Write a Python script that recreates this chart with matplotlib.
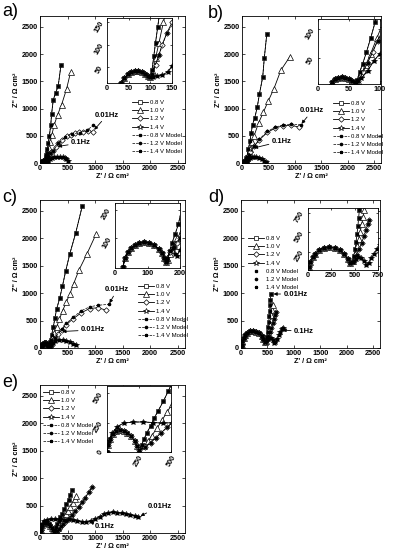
import matplotlib
matplotlib.use("Agg")
import matplotlib.pyplot as plt

plt.rcParams['font.family'] = ['Liberation Sans', 'DejaVu Sans']

# ---- panel a ----
a_arc_x = [28, 33, 40, 48, 56, 64, 72, 80, 88, 95, 100]
a_arc_y = [0, 15, 26, 34, 39, 41, 41, 39, 35, 31, 29]
a_x08 = [104, 108, 112, 117, 122, 135, 150, 170, 195, 211, 241, 285, 331, 380]
a_y08 = [45, 75, 105, 140, 175, 260, 360, 500, 700, 907, 1164, 1290, 1421, 1795]
a_x10 = [106, 112, 120, 130, 145, 160, 185, 215, 259, 320, 392, 482, 554]
a_y10 = [40, 70, 105, 150, 210, 280, 380, 520, 705, 888, 1072, 1360, 1667]
a_x12 = [104, 112, 120, 127, 138, 150, 175, 205, 241, 285, 332, 400, 483, 560, 634, 700, 785, 870, 966]
a_y12 = [35, 55, 78, 100, 126, 150, 180, 200, 225, 290, 362, 430, 487, 520, 546, 565, 575, 585, 575]
a_mx12 = [104, 120, 138, 175, 241, 332, 453, 574, 725, 850, 966]
a_my12 = [35, 78, 126, 180, 225, 362, 472, 533, 557, 600, 690]
a_x14 = [105, 115, 127, 140, 150, 175, 210, 250, 300, 361, 410, 450, 480, 512]
a_y14 = [29, 30, 32, 40, 52, 70, 90, 105, 115, 117, 105, 85, 65, 43]

# ---- panel b ----
b_arc_x = [18, 22, 27, 32, 38, 44, 50, 55, 60]
b_arc_y = [0, 8, 13, 16, 17, 16, 14, 11, 9]
b_x08 = [63, 67, 72, 78, 85, 92, 120, 150, 175, 199, 241, 289, 331, 392, 422, 470]
b_y08 = [12, 25, 40, 60, 85, 112, 250, 400, 560, 705, 827, 1029, 1274, 1581, 1930, 2377]
b_x10 = [64, 70, 77, 85, 95, 110, 130, 160, 195, 229, 313, 404, 494, 602, 735, 903]
b_y10 = [10, 22, 38, 58, 85, 125, 180, 260, 380, 500, 735, 931, 1134, 1360, 1703, 1949]
b_x12 = [65, 72, 80, 88, 96, 110, 130, 160, 229, 331, 482, 633, 783, 934, 1080]
b_y12 = [10, 25, 42, 60, 80, 110, 150, 200, 306, 429, 564, 643, 686, 690, 660]
b_mx12 = [65, 80, 96, 130, 229, 331, 482, 633, 783, 934, 1110]
b_my12 = [10, 42, 80, 150, 306, 440, 580, 660, 700, 715, 700]
b_x14 = [62, 70, 80, 90, 100, 120, 150, 190, 230, 270, 320, 370, 420, 460]
b_y14 = [8, 15, 28, 45, 58, 75, 95, 110, 118, 115, 100, 75, 45, 20]

# ---- panel c ----
c_arc_x = [25, 30, 40, 50, 60, 75, 90, 105, 120, 135, 145, 152, 156]
c_arc_y = [0, 30, 50, 65, 75, 83, 86, 84, 77, 62, 48, 32, 15]
c_x08 = [160, 168, 176, 185, 195, 210, 240, 270, 300, 360, 408, 467, 540, 647, 767]
c_y08 = [25, 55, 85, 115, 150, 230, 380, 540, 705, 919, 1134, 1409, 1716, 2096, 2592]
c_x10 = [162, 170, 180, 192, 205, 225, 260, 300, 350, 410, 480, 540, 611, 707, 851, 1019]
c_y10 = [22, 45, 72, 100, 130, 180, 270, 380, 520, 680, 846, 980, 1176, 1422, 1716, 2083]
c_x12 = [160, 170, 180, 190, 200, 230, 270, 330, 390, 480, 599, 750, 899, 1049, 1200]
c_y12 = [25, 50, 70, 85, 100, 140, 190, 260, 330, 428, 533, 643, 720, 735, 690]
c_mx12 = [160, 180, 200, 270, 390, 480, 599, 750, 899, 1049, 1247]
c_my12 = [25, 70, 100, 190, 340, 450, 560, 680, 750, 780, 796]
c_x14 = [160, 170, 179, 185, 190, 200, 230, 280, 350, 420, 480, 540, 600, 650]
c_y14 = [30, 55, 65, 45, 38, 60, 100, 130, 150, 150, 135, 110, 80, 50]

# ---- panel d ----
d_arc_x = [0, 10, 25, 50, 80, 120, 170, 230, 290, 340, 390, 425, 450]
d_arc_y = [0, 60, 120, 180, 230, 280, 305, 310, 300, 270, 220, 160, 110]
d_x08 = [470, 490, 505, 515, 525, 535, 542, 550, 555, 560]
d_y08 = [120, 200, 290, 380, 480, 580, 680, 780, 880, 980]
d_x10 = [480, 505, 525, 545, 560, 575, 590, 600]
d_y10 = [130, 220, 320, 420, 510, 600, 690, 780]
d_x12 = [490, 520, 550, 575, 600, 620, 640, 655]
d_y12 = [140, 210, 290, 370, 450, 530, 600, 660]
d_x14 = [480, 510, 540, 570, 600, 620, 650, 680, 710, 740, 770, 790]
d_y14 = [125, 160, 180, 175, 140, 90, 110, 170, 230, 290, 340, 370]

# ---- panel e ----
e_arc_x = [0, 10, 25, 45, 70, 100, 130, 160, 190, 215, 235, 250]
e_arc_y = [0, 60, 110, 150, 175, 185, 180, 165, 135, 95, 50, 15]
e_x08 = [270, 290, 310, 340, 370, 400, 440, 480, 520, 550, 575]
e_y08 = [60, 110, 160, 220, 290, 350, 430, 520, 610, 700, 780]
e_x10 = [290, 320, 350, 390, 430, 470, 510, 550, 590, 630, 660]
e_y10 = [50, 90, 140, 200, 270, 340, 410, 480, 550, 620, 680]
e_x12 = [300, 340, 380, 420, 470, 520, 580, 640, 700, 760, 820, 880, 947]
e_y12 = [40, 80, 120, 160, 210, 260, 330, 400, 480, 560, 640, 740, 840]
e_x14 = [0, 15, 40, 80, 130, 200, 280, 360, 440, 520, 600, 680, 760, 840, 920, 1000, 1080,
         1160, 1240, 1320, 1400, 1480, 1560, 1640, 1720, 1780]
e_y14 = [0, 90, 160, 215, 245, 254, 255, 250, 245, 250, 245, 225, 205, 200, 215, 250, 300,
         345, 370, 375, 370, 360, 350, 335, 315, 295]

W, H = 395, 550


def rect(l, t, r, b):
    return [l / W, 1 - b / H, (r - l) / W, (b - t) / H]


def draw_series(ax, arc_x, arc_y, x08, y08, x10, y10, x12, y12, x14, y14,
                mx12, my12, model_lines=True, arc14=True):
    kw = dict(color='k', lw=0.6, mfc='white', mec='k', mew=0.5)
    ax.plot(arc_x + x08, arc_y + y08, marker='s', ms=3.2, label='0.8 V', **kw)
    ax.plot(arc_x + x10, arc_y + y10, marker='^', ms=3.8, label='1.0 V', **kw)
    ax.plot(arc_x + x12, arc_y + y12, marker='D', ms=2.8, label='1.2 V', **kw)
    if arc14:
        x14, y14 = arc_x + x14, arc_y + y14
    ax.plot(x14, y14, marker='*', ms=4.2, label='1.4 V', **kw)
    ls = '--' if model_lines else 'none'
    mk = dict(color='k', lw=0.5, ls=ls)
    ax.plot(arc_x + x08, arc_y + y08, marker='s', ms=1.4, label='0.8 V Model', **mk)
    ax.plot(arc_x + mx12, arc_y + my12, marker='o', ms=1.6, label='1.2 V Model', **mk)
    ax.plot(x14, y14, marker='*', ms=2.2, label='1.4 V Model', **mk)


def style_main(ax):
    ax.set_xlim(0, 2630)
    ax.set_ylim(0, 2700)
    ax.set_xticks([0, 500, 1000, 1500, 2000, 2500])
    ax.set_yticks([0, 500, 1000, 1500, 2000, 2500])
    ax.tick_params(direction='in', top=True, right=True, length=2, width=0.5,
                   labelsize=5.2, pad=1.5)
    for lab in ax.get_xticklabels() + ax.get_yticklabels():
        lab.set_fontweight('bold')
    for s in ax.spines.values():
        s.set_linewidth(0.6)
    ax.set_xlabel("Z' / \u03a9 cm\u00b2", fontsize=5.2, fontweight='bold', labelpad=1)
    ax.set_ylabel("Z'' / \u03a9 cm\u00b2", fontsize=5.2, fontweight='bold', labelpad=1)


def style_inset(ax, xlim, ylim, xt, yt, rot_x=False):
    ax.set_xlim(*xlim)
    ax.set_ylim(*ylim)
    ax.set_xticks(xt)
    ax.set_yticks(yt)
    ax.tick_params(direction='in', top=True, right=True, length=1.5, width=0.5,
                   labelsize=5.2, pad=1.5)
    for lab in ax.get_yticklabels():
        lab.set_fontweight('bold')
        lab.set_rotation(60)
    for lab in ax.get_xticklabels():
        lab.set_fontweight('bold')
        if rot_x:
            lab.set_rotation(60)
    for s in ax.spines.values():
        s.set_linewidth(0.6)


def legend(ax, x, y):
    ax.legend(loc='upper left', bbox_to_anchor=(x / W, 1 - y / H),
              bbox_transform=ax.figure.transFigure, frameon=False, fontsize=4.3,
              handlelength=2.6, handletextpad=0.4, labelspacing=0.5, borderpad=0)


def note(ax, text, xy, xytext):
    ax.annotate(text, xy=xy, xytext=xytext, fontsize=5.5, fontweight='bold',
                va='center', ha='left',
                arrowprops=dict(arrowstyle='-|>', color='k', lw=0.6, mutation_scale=5,
                                shrinkA=0, shrinkB=1))


fig = plt.figure(figsize=(W / 100, H / 100), dpi=100)

panels = [
    ('a)', (2, 3), (40, 16, 185, 163), (107, 18, 172, 83), (0, 150), (15, 160),
     [0, 50, 100, 150], [50, 100, 150], (129, 97),
     (a_arc_x, a_arc_y, a_x08, a_y08, a_x10, a_y10, a_x12, a_y12, a_x14, a_y14, a_mx12, a_my12)),
    ('b)', (208, 5), (242, 16, 381, 163), (318, 19, 380, 84), (0, 100), (5, 118),
     [0, 50, 100], [50, 100], (330, 98),
     (b_arc_x, b_arc_y, b_x08, b_y08, b_x10, b_y10, b_x12, b_y12, b_x14, b_y14, b_mx12, b_my12)),
    ('c)', (2, 189), (40, 200, 185, 348), (115, 203, 180, 268), (0, 200), (-5, 225),
     [0, 100, 200], [100, 200], (135, 281),
     (c_arc_x, c_arc_y, c_x08, c_y08, c_x10, c_y10, c_x12, c_y12, c_x14, c_y14, c_mx12, c_my12)),
    ('d)', (208, 189), (241, 200, 380, 348), (308, 208, 378, 270), (0, 750), (20, 810),
     [0, 250, 500, 750], [250, 500, 750], (245, 233),
     (d_arc_x, d_arc_y, d_x08, d_y08, d_x10, d_y10, d_x12, d_y12, d_x14, d_y14, d_x12, d_y12)),
    ('e)', (2, 374), (40, 385, 185, 533), (107, 386, 171, 452), (0, 500), (0, 560),
     [250, 500], [0, 250, 500], (40, 387),
     (e_arc_x, e_arc_y, e_x08, e_y08, e_x10, e_y10, e_x12, e_y12, e_x14, e_y14, e_x12, e_y12)),
]

axes = {}
for name, lab_pos, mr, ir, ixl, iyl, ixt, iyt, lpos, data in panels:
    ax = fig.add_axes(rect(*mr))
    model_lines = name != 'd)'
    arc14 = name != 'e)'
    draw_series(ax, *data, model_lines=model_lines, arc14=arc14)
    style_main(ax)
    legend(ax, *lpos)
    fig.text(lab_pos[0] / W, 1 - lab_pos[1] / H, name, fontsize=13, va='top', ha='left')
    ins = fig.add_axes(rect(*ir))
    draw_series(ins, *data, model_lines=model_lines, arc14=arc14)
    style_inset(ins, ixl, iyl, ixt, iyt, rot_x=(name == 'e)'))
    axes[name] = ax

note(axes['a)'], '0.01Hz', (966, 590), (1000, 880))
note(axes['a)'], '0.1Hz', (300, 300), (560, 370))
note(axes['b)'], '0.01Hz', (1110, 700), (1100, 960))
note(axes['b)'], '0.1Hz', (200, 270), (560, 400))
note(axes['c)'], '0.01Hz', (1247, 796), (1180, 1060))
note(axes['c)'], '0.01Hz', (380, 300), (740, 330))
note(axes['d)'], '0.01Hz', (590, 985), (800, 985))
note(axes['d)'], '0.1Hz', (760, 330), (1000, 300))
note(axes['e)'], '0.01Hz', (1800, 300), (1950, 480))
note(axes['e)'], '0.1Hz', (880, 210), (1000, 110))

fig.savefig('out.png', dpi=100)
